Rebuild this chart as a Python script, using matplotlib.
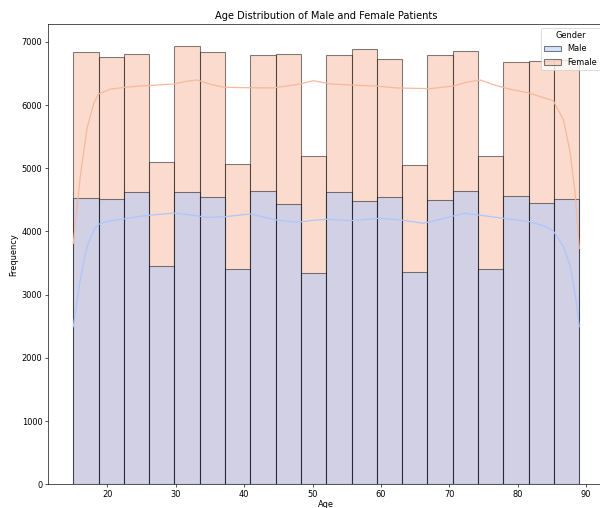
import numpy as np
import matplotlib
matplotlib.use("Agg")
import matplotlib.pyplot as plt
from matplotlib.patches import Patch

# -------------------
# DATA
# -------------------
AGE_MIN, AGE_MAX, N_BINS = 15, 89, 20

male_counts = [4535, 4509, 4630, 3454, 4630, 4551, 3402, 4646, 4435, 3339,
               4620, 4483, 4541, 3354, 4494, 4646, 3407, 4566, 4451, 4509]
female_counts = [2310, 2257, 2179, 1650, 2310, 2284, 1661, 2142, 2369, 1856,
                 2168, 2400, 2184, 1698, 2303, 2210, 1792, 2111, 2252, 2211]

# kde curves (male, and stacked male+female)
male_kde_age = [15.0, 16.0, 17.0, 18.0, 18.7, 20.4, 22.5, 24.8, 27.0, 29.7,
                32.0, 34.6, 37.2, 40.9, 44.6, 47.7, 50.0, 52.0, 55.5, 59.9,
                63.0, 66.2, 69.0, 72.1, 75.0, 77.9, 81.8, 84.0, 85.2, 86.7,
                87.7, 88.5, 89.0]
male_kde = [2494, 3233, 3760, 4024, 4114, 4171, 4200, 4240, 4265, 4290,
            4265, 4222, 4234, 4277, 4182, 4146, 4175, 4193, 4171, 4209,
            4180, 4130, 4200, 4288, 4250, 4209, 4155, 4080, 4010, 3759,
            3443, 2950, 2494]

total_kde_age = [15.0, 16.0, 17.0, 18.0, 18.7, 20.4, 22.5, 24.8, 27.0, 29.7,
                 31.5, 33.1, 35.0, 37.0, 40.0, 44.3, 48.2, 50.1, 52.6, 56.5,
                 59.5, 62.3, 67.2, 70.6, 72.5, 74.5, 76.5, 78.9, 81.8, 84.0,
                 85.2, 86.7, 87.7, 88.4, 89.0]
total_kde = [3813, 4850, 5630, 6030, 6176, 6251, 6280, 6302, 6315, 6334,
             6375, 6397, 6330, 6282, 6275, 6271, 6334, 6386, 6334, 6313,
             6300, 6271, 6260, 6302, 6360, 6397, 6320, 6250, 6187, 6110,
             6070, 5764, 5237, 4600, 3734]

GENDERS = ["Male", "Female"]

# -------------------
# PLOT
# -------------------
fig = plt.figure(figsize=(600 / 59, 508 / 59), dpi=59)
ax = fig.add_axes([0.08, 0.0467, 0.9275, 0.9061])

colors = plt.get_cmap("coolwarm")([1 / 3, 2 / 3])
edges = np.linspace(AGE_MIN, AGE_MAX, N_BINS + 1)
widths = np.diff(edges)
male = np.array(male_counts)
total = male + np.array(female_counts)

ax.bar(edges[:-1], total, widths, align="edge", color=colors[1],
       edgecolor="black", linewidth=1.3, alpha=0.5)
ax.bar(edges[:-1], male, widths, align="edge", color=colors[0],
       edgecolor="black", linewidth=1.3, alpha=0.5)

ax.plot(male_kde_age, male_kde, color=colors[0], linewidth=1.5)
ax.plot(total_kde_age, total_kde, color=colors[1], linewidth=1.5)

ax.set_xticks(range(20, 100, 10))
ax.set_yticks(range(0, 8000, 1000))
ax.set_ylim(0, 7283)
ax.set_title("Age Distribution of Male and Female Patients")
ax.set_xlabel("Age", labelpad=1)
ax.set_ylabel("Frequency")

handles = [Patch(facecolor=c, edgecolor="black", alpha=0.5, linewidth=1.3)
           for c in colors]
ax.legend(handles, GENDERS, title="Gender", loc="upper right")

fig.savefig("out.png", dpi=59)
